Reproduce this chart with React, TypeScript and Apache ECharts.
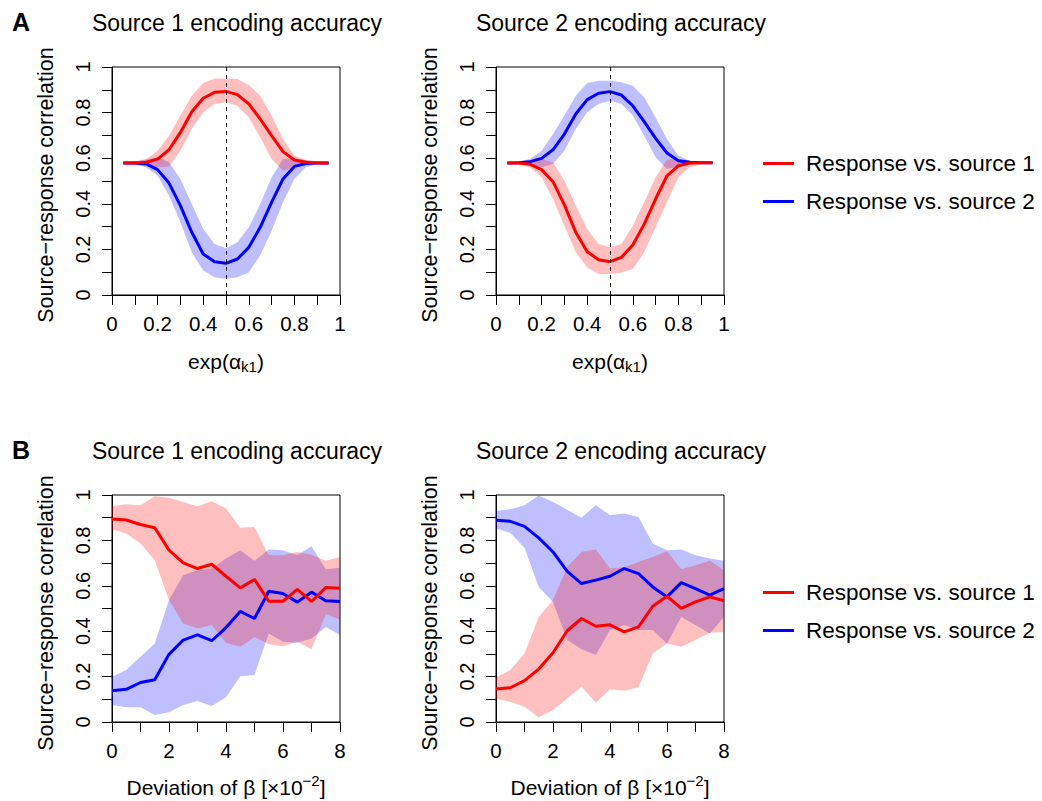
import React, { useEffect, useRef } from 'react';
import * as echarts from 'echarts';

const FONT = '"Liberation Sans", Arial, Helvetica, sans-serif';

const SERIES_NAMES = ['Response vs. source 1', 'Response vs. source 2'];
const TITLES = ['Source 1 encoding accuracy', 'Source 2 encoding accuracy'];
const PANEL_LETTERS = ['A', 'B'];
const Y_LABEL = 'Source\u2212response correlation';

const xA = [0.05, 0.1, 0.15, 0.2, 0.25, 0.3, 0.35, 0.4, 0.45, 0.5, 0.55, 0.6, 0.65, 0.7, 0.75, 0.8, 0.85, 0.9, 0.95];
const xB = [0, 0.5, 1, 1.5, 2, 2.5, 3, 3.5, 4, 4.5, 5, 5.5, 6, 6.5, 7, 7.5, 8];

const xTickLabelsA = ['0', '0.2', '0.4', '0.6', '0.8', '1'];
const xTickLabelsB = ['0', '2', '4', '6', '8'];
const yTickLabels = ['0', '0.2', '0.4', '0.6', '0.8', '1'];

// Panel A, source 1
const a1RedMean = [0.579, 0.579, 0.582, 0.596, 0.637, 0.713, 0.804, 0.863, 0.889, 0.893, 0.879, 0.838, 0.772, 0.699, 0.629, 0.592, 0.582, 0.579, 0.579];
const a1RedUp = [0.583, 0.586, 0.597, 0.633, 0.699, 0.787, 0.874, 0.930, 0.950, 0.950, 0.947, 0.921, 0.874, 0.787, 0.684, 0.611, 0.592, 0.585, 0.583];
const a1RedLo = [0.575, 0.573, 0.567, 0.560, 0.564, 0.633, 0.728, 0.801, 0.838, 0.845, 0.830, 0.779, 0.692, 0.597, 0.545, 0.560, 0.572, 0.576, 0.576];
const a1BlueMean = [0.579, 0.579, 0.575, 0.550, 0.491, 0.392, 0.275, 0.180, 0.146, 0.139, 0.158, 0.209, 0.297, 0.406, 0.509, 0.564, 0.577, 0.579, 0.579];
const a1BlueUp = [0.582, 0.585, 0.594, 0.604, 0.582, 0.509, 0.399, 0.290, 0.224, 0.205, 0.231, 0.297, 0.399, 0.516, 0.597, 0.599, 0.592, 0.585, 0.582];
const a1BlueLo = [0.575, 0.573, 0.560, 0.523, 0.436, 0.319, 0.187, 0.107, 0.078, 0.070, 0.078, 0.099, 0.173, 0.282, 0.407, 0.509, 0.560, 0.573, 0.576];

// Panel A, source 2
const a2RedMean = [0.579, 0.579, 0.573, 0.550, 0.497, 0.395, 0.275, 0.190, 0.155, 0.146, 0.165, 0.219, 0.311, 0.421, 0.523, 0.567, 0.579, 0.580, 0.580];
const a2RedUp = [0.582, 0.585, 0.592, 0.597, 0.582, 0.502, 0.392, 0.290, 0.224, 0.209, 0.224, 0.304, 0.407, 0.516, 0.594, 0.597, 0.589, 0.585, 0.582];
const a2RedLo = [0.576, 0.573, 0.560, 0.516, 0.421, 0.304, 0.187, 0.121, 0.092, 0.092, 0.099, 0.114, 0.187, 0.297, 0.407, 0.516, 0.560, 0.573, 0.576];
const a2BlueMean = [0.579, 0.580, 0.585, 0.599, 0.637, 0.706, 0.794, 0.857, 0.885, 0.892, 0.877, 0.830, 0.760, 0.687, 0.623, 0.589, 0.582, 0.580, 0.580];
const a2BlueUp = [0.583, 0.586, 0.597, 0.633, 0.706, 0.787, 0.874, 0.930, 0.940, 0.940, 0.933, 0.918, 0.867, 0.779, 0.684, 0.611, 0.589, 0.583, 0.582];
const a2BlueLo = [0.575, 0.575, 0.570, 0.560, 0.575, 0.633, 0.728, 0.801, 0.838, 0.852, 0.838, 0.787, 0.699, 0.604, 0.553, 0.564, 0.575, 0.577, 0.579];

// Panel B, source 1
const b1RedMean = [0.894, 0.890, 0.870, 0.856, 0.757, 0.701, 0.676, 0.695, 0.642, 0.591, 0.628, 0.532, 0.532, 0.584, 0.531, 0.592, 0.589];
const b1RedUp = [0.950, 0.959, 0.955, 0.994, 0.988, 0.969, 0.950, 0.972, 0.940, 0.856, 0.859, 0.735, 0.735, 0.749, 0.737, 0.710, 0.727];
const b1RedLo = [0.849, 0.830, 0.786, 0.713, 0.537, 0.434, 0.412, 0.427, 0.349, 0.331, 0.375, 0.343, 0.334, 0.353, 0.320, 0.475, 0.452];
const b1BlueMean = [0.138, 0.144, 0.174, 0.186, 0.298, 0.361, 0.384, 0.358, 0.416, 0.487, 0.456, 0.576, 0.566, 0.528, 0.572, 0.534, 0.531];
const b1BlueUp = [0.199, 0.229, 0.287, 0.346, 0.537, 0.647, 0.669, 0.676, 0.720, 0.757, 0.710, 0.760, 0.757, 0.735, 0.774, 0.673, 0.680];
const b1BlueLo = [0.075, 0.065, 0.065, 0.031, 0.043, 0.075, 0.092, 0.070, 0.109, 0.202, 0.207, 0.390, 0.353, 0.349, 0.368, 0.419, 0.383];

// Panel B, source 2
const b2RedMean = [0.145, 0.151, 0.182, 0.233, 0.305, 0.402, 0.456, 0.422, 0.428, 0.397, 0.419, 0.510, 0.554, 0.501, 0.529, 0.551, 0.534];
const b2RedUp = [0.196, 0.229, 0.302, 0.463, 0.537, 0.683, 0.749, 0.760, 0.676, 0.683, 0.705, 0.727, 0.752, 0.673, 0.691, 0.710, 0.669];
const b2RedLo = [0.104, 0.089, 0.067, 0.021, 0.053, 0.104, 0.155, 0.085, 0.144, 0.138, 0.153, 0.302, 0.346, 0.331, 0.361, 0.393, 0.397];
const b2BlueMean = [0.889, 0.884, 0.862, 0.811, 0.749, 0.664, 0.610, 0.625, 0.642, 0.676, 0.654, 0.595, 0.551, 0.614, 0.588, 0.559, 0.588];
const b2BlueUp = [0.930, 0.937, 0.955, 0.998, 0.969, 0.935, 0.900, 0.955, 0.911, 0.918, 0.903, 0.786, 0.757, 0.760, 0.735, 0.720, 0.710];
const b2BlueLo = [0.852, 0.833, 0.768, 0.595, 0.529, 0.361, 0.320, 0.295, 0.405, 0.427, 0.405, 0.405, 0.346, 0.463, 0.427, 0.390, 0.463];

const RED = '#ff0000';
const BLUE = '#0000ff';
const RED_BAND = 'rgba(255,0,0,0.25)';
const BLUE_BAND = 'rgba(0,0,255,0.25)';

type Panel = {
  grid: { left: number; top: number; width: number; height: number };
  xs: number[];
  xMax: number;
  xStep: number;
  xLabels: string[];
  red: { mean: number[]; up: number[]; lo: number[] };
  blue: { mean: number[]; up: number[]; lo: number[] };
  dashed: boolean;
};

const panels: Panel[] = [
  { grid: { left: 112, top: 67, width: 228, height: 228 }, xs: xA, xMax: 1, xStep: 0.1, xLabels: xTickLabelsA,
    red: { mean: a1RedMean, up: a1RedUp, lo: a1RedLo }, blue: { mean: a1BlueMean, up: a1BlueUp, lo: a1BlueLo }, dashed: true },
  { grid: { left: 496, top: 67, width: 228, height: 228 }, xs: xA, xMax: 1, xStep: 0.1, xLabels: xTickLabelsA,
    red: { mean: a2RedMean, up: a2RedUp, lo: a2RedLo }, blue: { mean: a2BlueMean, up: a2BlueUp, lo: a2BlueLo }, dashed: true },
  { grid: { left: 112, top: 495, width: 228, height: 227 }, xs: xB, xMax: 8, xStep: 1, xLabels: xTickLabelsB,
    red: { mean: b1RedMean, up: b1RedUp, lo: b1RedLo }, blue: { mean: b1BlueMean, up: b1BlueUp, lo: b1BlueLo }, dashed: false },
  { grid: { left: 496, top: 495, width: 228, height: 227 }, xs: xB, xMax: 8, xStep: 1, xLabels: xTickLabelsB,
    red: { mean: b2RedMean, up: b2RedUp, lo: b2RedLo }, blue: { mean: b2BlueMean, up: b2BlueUp, lo: b2BlueLo }, dashed: false },
];

function bandSeries(gi: number, xs: number[], lo: number[], up: number[], fill: string) {
  return {
    type: 'custom',
    xAxisIndex: gi,
    yAxisIndex: gi,
    silent: true,
    clip: true,
    data: xs.map((x, i) => [x, lo[i], up[i]]),
    encode: { x: 0, y: [1, 2] },
    renderItem: (params: any, api: any) => {
      if (params.dataIndex !== 0) return null;
      const top = xs.map((x, i) => api.coord([x, up[i]]));
      const bot = xs.map((x, i) => api.coord([x, lo[i]])).reverse();
      return { type: 'polygon', shape: { points: top.concat(bot) }, style: { fill } };
    },
  };
}

function lineSeries(gi: number, name: string, xs: number[], ys: number[], color: string, dashed: boolean) {
  const s: any = {
    type: 'line',
    name,
    xAxisIndex: gi,
    yAxisIndex: gi,
    data: xs.map((x, i) => [x, ys[i]]),
    symbol: 'none',
    color,
    itemStyle: { color },
    lineStyle: { color, width: 3 },
    silent: true,
  };
  if (dashed) {
    s.markLine = {
      silent: true,
      symbol: ['none', 'none'],
      label: { show: false },
      lineStyle: { color: '#000', width: 1, type: [4, 4] },
      data: [{ xAxis: 0.5 }],
    };
  }
  return s;
}

function txt(text: string, x: number, y: number, extra: any = {}, rotation = 0) {
  return {
    type: 'text',
    x,
    y,
    rotation,
    silent: true,
    style: {
      text,
      fill: '#000',
      fontFamily: FONT,
      fontSize: 21,
      align: 'center',
      verticalAlign: 'middle',
      textAlign: 'center',
      textVerticalAlign: 'middle',
      ...extra,
    },
  };
}

export default function App() {
  const ref = useRef<HTMLDivElement>(null);
  useEffect(() => {
    if (!ref.current) return;
    const chart = echarts.init(ref.current, null, { renderer: 'svg' });

    const grids = panels.map((p) => ({
      ...p.grid,
      show: true,
      borderColor: '#000',
      borderWidth: 1,
      backgroundColor: 'transparent',
      containLabel: false,
    }));

    const xAxes = panels.map((p, gi) => ({
      type: 'value',
      gridIndex: gi,
      min: 0,
      max: p.xMax,
      interval: p.xStep,
      axisLine: { show: true, lineStyle: { color: '#000', width: 1 } },
      axisTick: { show: true, inside: false, length: 10, lineStyle: { color: '#000', width: 1 } },
      splitLine: { show: false },
      axisLabel: {
        color: '#000',
        fontFamily: FONT,
        fontSize: 20.5,
        margin: 18,
        formatter: (v: number) => {
          const k = Math.round(v / p.xStep);
          return k % 2 === 0 ? p.xLabels[k / 2] ?? '' : '';
        },
      },
    }));

    const yAxes = panels.map((_p, gi) => ({
      type: 'value',
      gridIndex: gi,
      min: 0,
      max: 1,
      interval: 0.1,
      axisLine: { show: true, lineStyle: { color: '#000', width: 1 } },
      axisTick: { show: true, inside: false, length: 10, lineStyle: { color: '#000', width: 1 } },
      splitLine: { show: false },
      axisLabel: {
        color: '#000',
        fontFamily: FONT,
        fontSize: 20,
        margin: 19,
        rotate: 90,
        formatter: (v: number) => {
          const k = Math.round(v * 10);
          return k % 2 === 0 ? yTickLabels[k / 2] ?? '' : '';
        },
      },
    }));

    const series: any[] = [];
    panels.forEach((p, gi) => {
      series.push(bandSeries(gi, p.xs, p.blue.lo, p.blue.up, BLUE_BAND));
      series.push(bandSeries(gi, p.xs, p.red.lo, p.red.up, RED_BAND));
      series.push(lineSeries(gi, SERIES_NAMES[1], p.xs, p.blue.mean, BLUE, false));
      series.push(lineSeries(gi, SERIES_NAMES[0], p.xs, p.red.mean, RED, p.dashed));
    });

    const xNameA = {
      rich: {
        n: { fontFamily: FONT, fontSize: 21, verticalAlign: 'bottom', padding: [0, 0, 2, 0], fill: '#000' },
        s: { fontFamily: FONT, fontSize: 15, verticalAlign: 'bottom', fill: '#000' },
      },
    };
    const xNameB = {
      rich: {
        n: { fontFamily: FONT, fontSize: 21, verticalAlign: 'bottom', fill: '#000' },
        p: { fontFamily: FONT, fontSize: 15, verticalAlign: 'top', padding: [0, 0, 10, 0], fill: '#000' },
      },
    };

    const graphics: any[] = [];
    [0, 1].forEach((row) => {
      const dy = row === 0 ? 0 : 428;
      graphics.push(txt(PANEL_LETTERS[row], 21, 22 + dy, { fontSize: 25, fontWeight: 'bold' }));
      [0, 1].forEach((col) => {
        const dx = col * 384;
        graphics.push(txt(TITLES[col], 237 + dx, 23 + dy, { fontSize: 23 }));
        graphics.push(txt(Y_LABEL, 46 + dx, 185 + dy, { fontSize: 21.5 }, Math.PI / 2));
        if (row === 0) {
          graphics.push(txt('{n|exp(\u03b1}{s|k1}{n|)}', 226 + dx, 362, xNameA));
        } else {
          graphics.push(txt('{n|Deviation of \u03b2 [\u00d710}{p|\u22122}{n|]}', 226 + dx, 785, xNameB));
        }
      });
    });

    const legendBase = {
      orient: 'vertical',
      left: 763,
      padding: 0,
      icon: 'rect',
      itemWidth: 31,
      itemHeight: 3,
      itemGap: 15,
      selectedMode: false,
      data: SERIES_NAMES,
      textStyle: { color: '#000', fontFamily: FONT, fontSize: 22.5, padding: [0, 0, 0, 7] },
    };

    chart.setOption({
      animation: false,
      backgroundColor: '#fff',
      grid: grids,
      xAxis: xAxes,
      yAxis: yAxes,
      legend: [
        { ...legendBase, top: 152 },
        { ...legendBase, top: 581 },
      ],
      graphic: graphics,
      series,
    });

    return () => chart.dispose();
  }, []);

  return (
    <div
      ref={ref}
      style={{ position: 'absolute', left: 0, top: 0, width: 1042, height: 801 }}
    />
  );
}
